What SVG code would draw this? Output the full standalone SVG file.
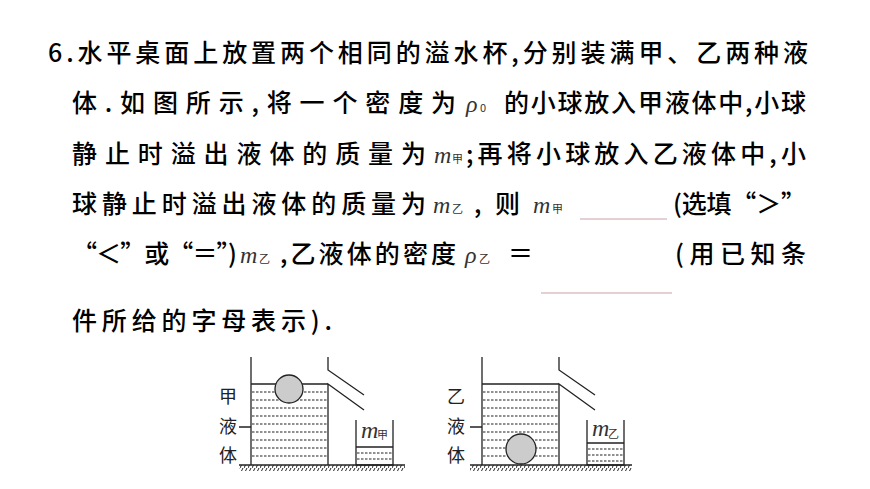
<svg xmlns="http://www.w3.org/2000/svg" width="870" height="489" viewBox="0 0 870 489">
<style>
.t{font-family:"Noto Sans CJK SC","Noto Sans",sans-serif;font-size:25px;font-weight:500;fill:#000}
.m{font-family:"Liberation Serif",serif;font-style:italic;font-size:24px;fill:#333}
.s{font-family:"Noto Sans CJK SC",sans-serif;font-size:11px;fill:#333}
.l{font-family:"Noto Sans CJK SC",sans-serif;font-size:18px;fill:#222}
.k{stroke:#222;stroke-width:1.3;fill:none}
.d{stroke:#222;stroke-width:1.2;stroke-dasharray:2.5 1.5;fill:none}
.b{stroke:#c9a0a8;stroke-width:1.2}
</style>
<rect width="870" height="489" fill="#fff"/>
<g id="text">
<text class="t" x="48" y="62" textLength="760" lengthAdjust="spacing">6.水平桌面上放置两个相同的溢水杯,分别装满甲、乙两种液</text>
<text class="t" x="72" y="112" textLength="384" lengthAdjust="spacing">体.如图所示,将一个密度为</text>
<text class="m" x="466" y="112">ρ</text><text class="s" x="480" y="112">0</text>
<text class="t" x="504" y="112" textLength="302" lengthAdjust="spacing">的小球放入甲液体中,小球</text>
<text class="t" x="72" y="163" textLength="354" lengthAdjust="spacing">静止时溢出液体的质量为</text>
<text class="m" x="434" y="163">m</text><text class="s" x="452" y="163">甲</text>
<text class="t" x="466" y="163" textLength="340" lengthAdjust="spacing">;再将小球放入乙液体中,小</text>
<text class="t" x="72" y="213" textLength="354" lengthAdjust="spacing">球静止时溢出液体的质量为</text>
<text class="m" x="433" y="213">m</text><text class="s" x="452" y="213">乙</text>
<text class="t" x="474" y="213" textLength="46" lengthAdjust="spacing">,则</text>
<text class="m" x="533" y="213">m</text><text class="s" x="552" y="213">甲</text>
<line class="b" x1="580" y1="219" x2="667" y2="219"/>
<text class="t" x="673" y="213" textLength="133" lengthAdjust="spacing">(选填“＞”</text>
<text class="t" x="72" y="263" textLength="165" lengthAdjust="spacing">“＜”或“＝”)</text>
<text class="m" x="240" y="263">m</text><text class="s" x="259" y="263">乙</text>
<text class="t" x="280" y="263" textLength="176" lengthAdjust="spacing">,乙液体的密度</text>
<text class="m" x="465" y="263">ρ</text><text class="s" x="479" y="263">乙</text>
<text class="t" x="508" y="263">＝</text>
<text class="t" x="675" y="263" textLength="131" lengthAdjust="spacing">(用已知条</text>
<line class="b" x1="541" y1="293" x2="672" y2="293"/>
<text class="t" x="72" y="330" textLength="260" lengthAdjust="spacing">件所给的字母表示).</text>
</g>
<defs>
<pattern id="h" width="4" height="6" patternUnits="userSpaceOnUse"><line x1="3" y1="0" x2="0" y2="6" stroke="#222" stroke-width="1"/></pattern>
</defs>
<g id="fig1">
<rect x="239" y="465" width="166" height="6" fill="url(#h)"/>
<line class="k" x1="239" y1="465" x2="405" y2="465"/>
<path class="d" d="M252 392H327M252 400H327M252 408H327M252 416H327M252 424H327M252 432H327M252 440H327M252 448H327M252 456H327M357 453H392M357 459H392"/>
<path class="k" d="M251 357V465M251 384H328M328 465V384L364 410M328 357V370L364 395M356 420V465H393V420M356 447H393M239 427H251"/>
<circle cx="289" cy="389" r="14" fill="#ccc" stroke="#222" stroke-width="1.3"/>
<text class="l" x="228" y="403" text-anchor="middle">甲</text>
<text class="l" x="228" y="433" text-anchor="middle">液</text>
<text class="l" x="228" y="462" text-anchor="middle">体</text>
<text class="m" x="361" y="438" font-size="20">m</text><text class="s" x="377" y="439" font-size="8">甲</text>
</g>
<g id="fig2">
<rect x="470" y="465" width="162" height="6" fill="url(#h)"/>
<line class="k" x1="470" y1="465" x2="632" y2="465"/>
<path class="d" d="M483 392H558M483 400H558M483 408H558M483 416H558M483 424H558M483 432H558M483 440H558M483 448H558M483 456H558M588 449H623M588 455H623M588 461H623"/>
<path class="k" d="M482 357V465M482 384H559M559 465V384L595 410M559 357V370L595 395M587 420V465H624V420M587 443H624M470 427H482"/>
<circle cx="521" cy="449" r="15" fill="#ccc" stroke="#222" stroke-width="1.3"/>
<text class="l" x="456" y="403" text-anchor="middle">乙</text>
<text class="l" x="456" y="433" text-anchor="middle">液</text>
<text class="l" x="456" y="462" text-anchor="middle">体</text>
<text class="m" x="592" y="436" font-size="20">m</text><text class="s" x="608" y="438" font-size="9">乙</text>
</g>
</svg>
